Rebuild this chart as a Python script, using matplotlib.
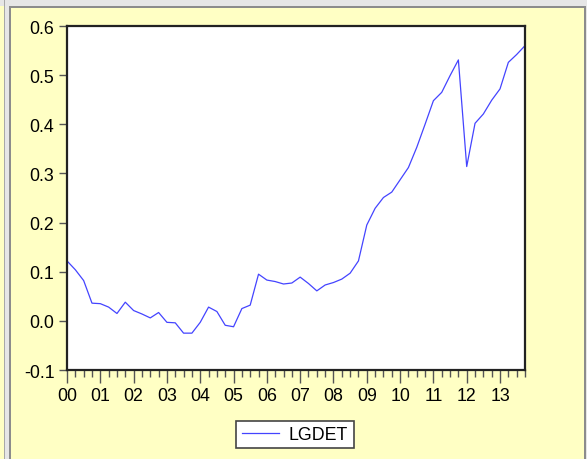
import numpy as np
import matplotlib.pyplot as plt
from matplotlib.patches import Rectangle
from matplotlib.ticker import MultipleLocator, FixedLocator

plt.rcParams['font.family'] = ['Liberation Sans', 'DejaVu Sans']

# quarterly LGDET, 2000Q1 .. 2013Q4
lgdet = [0.122, 0.104, 0.082, 0.036, 0.035, 0.028, 0.015, 0.038,
         0.021, 0.014, 0.006, 0.017, -0.003, -0.004, -0.025, -0.025,
         -0.003, 0.028, 0.019, -0.009, -0.012, 0.025, 0.032, 0.095,
         0.083, 0.080, 0.075, 0.077, 0.089, 0.076, 0.061, 0.073,
         0.078, 0.085, 0.097, 0.122, 0.195, 0.229, 0.251, 0.262,
         0.287, 0.312, 0.353, 0.400, 0.448, 0.465, 0.499, 0.531,
         0.314, 0.402, 0.421, 0.449, 0.472, 0.526, 0.542, 0.560]
years = list(range(2000, 2014))
year_labels = ['%02d' % (y % 100) for y in years]
yticks = [-0.1, 0.0, 0.1, 0.2, 0.3, 0.4, 0.5, 0.6]

t = 2000 + np.arange(len(lgdet)) / 4.0

W, H = 587, 460
fig = plt.figure(figsize=(W / 100, H / 100), dpi=100, facecolor='#ffffc4')


def px_rect(x0, y0, w, h, color):
    # rectangle in pixel coords, y measured from the top
    fig.add_artist(Rectangle((x0 / W, 1 - (y0 + h) / H), w / W, h / H,
                             transform=fig.transFigure, facecolor=color,
                             edgecolor='none', zorder=0))


# window frame
px_rect(0, 0, W, 7, '#e6e6e6')
px_rect(5, 0, 4, H, '#e6e6e6')
px_rect(586, 0, 1, H, '#e6e6e6')
px_rect(4, 0, 1.2, H, '#a8a8a8')
px_rect(9, 7, 2, H, '#8c8c8c')
px_rect(9, 7, 577, 2, '#8c8c8c')
px_rect(584, 7, 2, H, '#8c8c8c')

ax = fig.add_axes([67 / W, 1 - 371 / H, (525 - 67) / W, (371 - 27) / H])
ax.set_facecolor('white')
ax.plot(t, lgdet, color='#4444ff', lw=0.9, label='LGDET')

ax.set_xlim(2000, 2013.75)
ax.set_ylim(-0.1, 0.6)
ax.xaxis.set_major_locator(FixedLocator(years))
ax.xaxis.set_minor_locator(MultipleLocator(0.25))
ax.set_xticklabels(year_labels)
ax.set_yticks(yticks)
ax.set_yticklabels(['%.1f' % v for v in yticks])

for s in ax.spines.values():
    s.set_linewidth(1.6)
    s.set_color('#222222')

ax.tick_params(axis='both', which='major', labelsize=12.8, color='#555555',
               width=1, pad=3)
ax.tick_params(axis='x', which='major', length=9)
ax.tick_params(axis='x', which='minor', length=5, width=1, color='#555555')
ax.tick_params(axis='y', which='major', length=6)

leg = fig.legend(loc='center', bbox_to_anchor=(295 / W, 1 - 435.5 / H),
                 fontsize=12.8, frameon=True, fancybox=False,
                 handlelength=2.1, handletextpad=0.55, borderpad=0.3,
                 borderaxespad=0)
leg.get_frame().set_edgecolor('#444444')
leg.get_frame().set_linewidth(1.2)
leg.get_frame().set_facecolor('white')
leg.get_frame().set_alpha(1)

fig.savefig('out.png', dpi=100, facecolor=fig.get_facecolor())
